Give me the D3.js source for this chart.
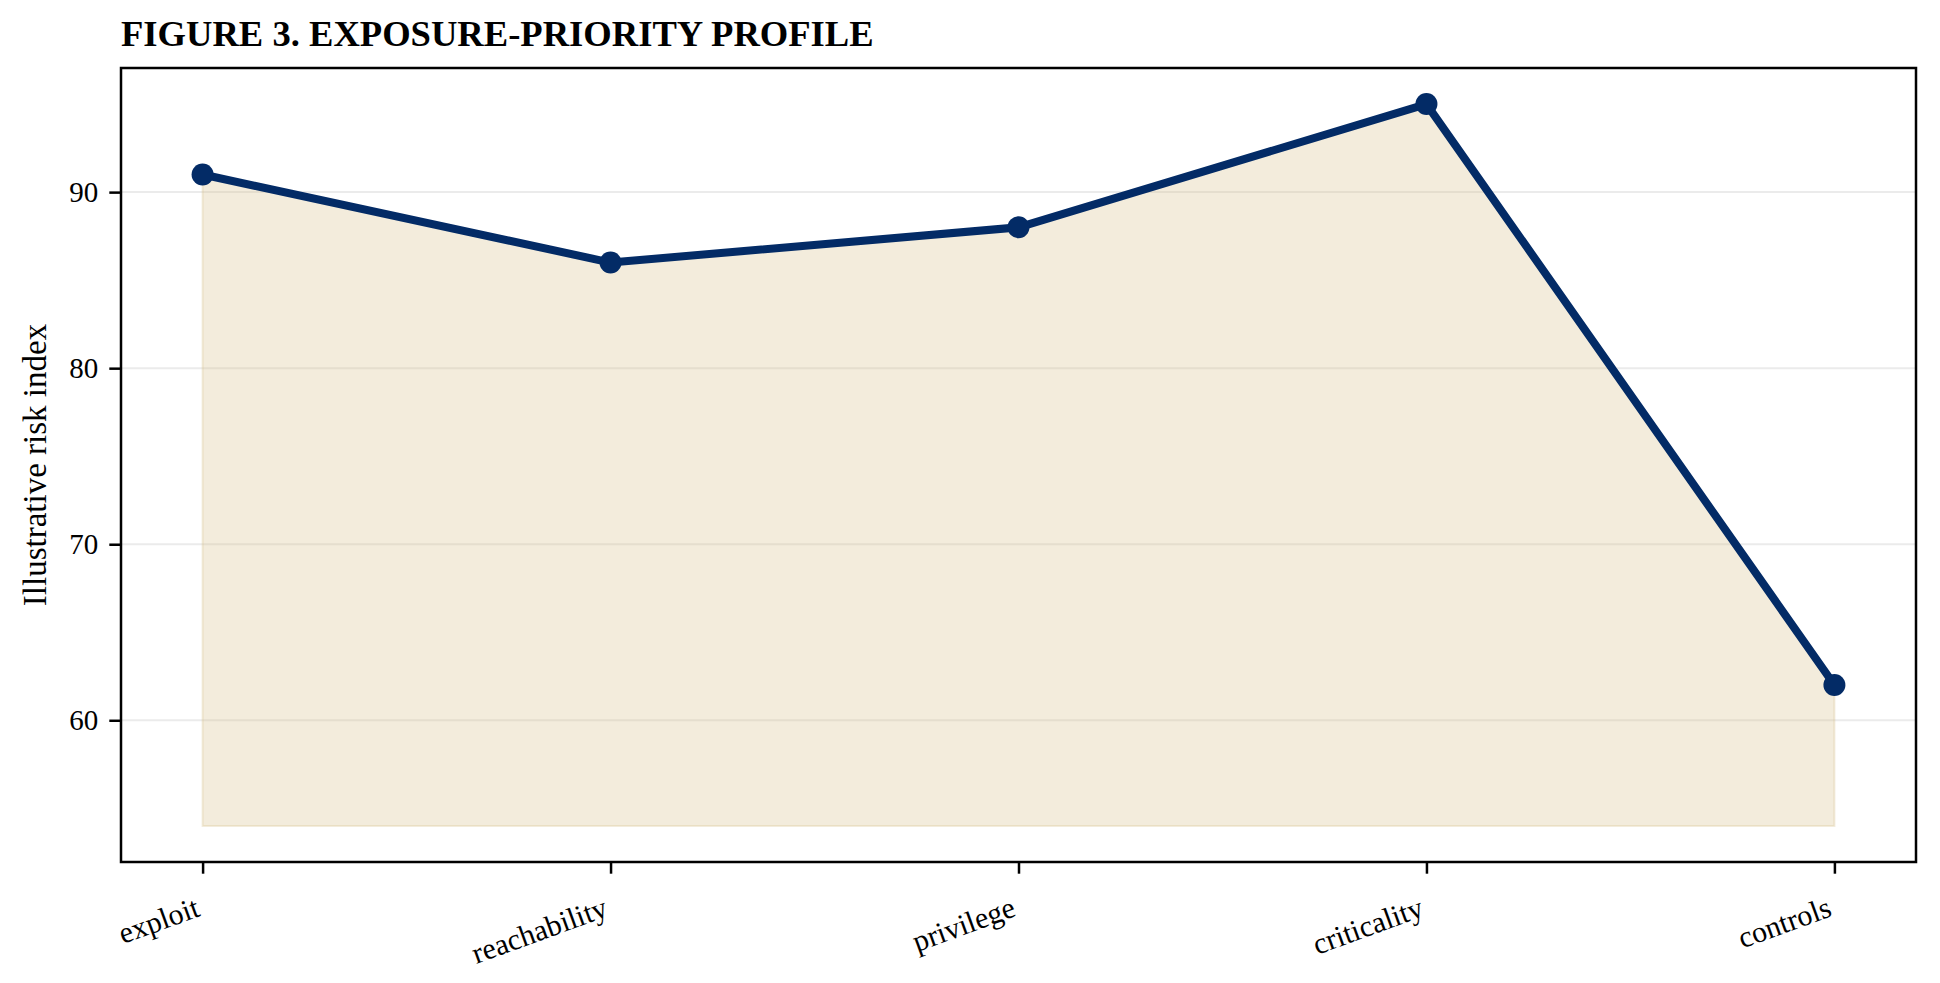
<!DOCTYPE html>
<html>
<head>
<meta charset="utf-8">
<script src="https://cdn.jsdelivr.net/npm/d3@7"></script>
<style>
  body { margin: 0; background: #fff; }
  svg { display: block; font-family: "Liberation Serif", "Times New Roman", serif; }
</style>
</head>
<body>
<svg id="chart"></svg>
<script>
// exposure-priority profile, values
var categories = ["exploit", "reachability", "privilege", "criticality", "controls"];
var riskValues = [91, 86, 88, 95, 62];
var yTicks = [60, 70, 80, 90];
var fillBase = 54;

var W = 1940, H = 983;
var margin = {top: 68, right: 24, bottom: 121, left: 121},
    width = W - margin.left - margin.right,
    height = H - margin.top - margin.bottom;

var svg = d3.select("#chart")
    .attr("width", W)
    .attr("height", H);

var g = svg.append("g")
    .attr("transform", "translate(" + margin.left + "," + margin.top + ")");

var x = d3.scaleLinear()
    .domain([-0.2, categories.length - 1 + 0.2])
    .range([0, width]);

var y = d3.scaleLinear()
    .domain([51.95, 97.05])
    .range([height, 0]);

// grid
g.selectAll(".grid")
    .data(yTicks)
    .enter()
    .append("line")
    .attr("class", "grid")
    .attr("x1", 0)
    .attr("x2", width)
    .attr("y1", function(d){ return y(d); })
    .attr("y2", function(d){ return y(d); })
    .style("stroke", "#ebebeb")
    .style("stroke-width", 2);

// shaded area under the profile
var area = d3.area()
    .x(function(d, i){ return x(i); })
    .y0(y(fillBase))
    .y1(function(d){ return y(d); });

g.append("path")
    .datum(riskValues)
    .attr("d", area)
    .style("fill", "#d8c08a")
    .style("fill-opacity", 0.3)
    .style("stroke", "#d8c08a")
    .style("stroke-opacity", 0.3)
    .style("stroke-width", 2);

var line = d3.line()
    .x(function(d, i){ return x(i); })
    .y(function(d){ return y(d); });

g.append("path")
    .datum(riskValues)
    .attr("d", line)
    .style("fill", "none")
    .style("stroke", "#032b66")
    .style("stroke-width", 8)
    .style("stroke-linejoin", "round");

g.selectAll(".dot")
    .data(riskValues)
    .enter()
    .append("circle")
    .attr("class", "dot")
    .attr("cx", function(d, i){ return x(i); })
    .attr("cy", function(d){ return y(d); })
    .attr("r", 11)
    .style("fill", "#032b66");

// axes
var yAxis = d3.axisLeft(y)
    .tickValues(yTicks)
    .tickSize(11.7)
    .tickPadding(11)
    .tickFormat(d3.format("d"));

var yG = g.append("g")
    .attr("class", "y axis")
    .call(yAxis);
yG.select(".domain").remove();
yG.selectAll("line").style("stroke", "#000").style("stroke-width", 2.5);
yG.selectAll("text")
    .style("font-size", "29px")
    .style("font-family", "Liberation Serif")
    .style("fill", "#000");

var xAxis = d3.axisBottom(x)
    .tickValues(d3.range(categories.length))
    .tickSize(11.7)
    .tickFormat(function(i){ return categories[i]; });

var xG = g.append("g")
    .attr("class", "x axis")
    .attr("transform", "translate(0," + height + ")")
    .call(xAxis);
xG.select(".domain").remove();
xG.selectAll("line").style("stroke", "#000").style("stroke-width", 2.5);
xG.selectAll("text")
    .style("font-size", "30px")
    .style("font-family", "Liberation Serif")
    .style("fill", "#000")
    .style("text-anchor", "end")
    .attr("x", -10)
    .attr("y", 29)
    .attr("dy", "0.75em")
    .attr("transform", "rotate(-20, 0, 29)");

// frame
g.append("rect")
    .attr("width", width)
    .attr("height", height)
    .style("fill", "none")
    .style("stroke", "#000")
    .style("stroke-width", 2.5);

svg.append("text")
    .attr("transform", "translate(46," + (margin.top + height / 2) + ") rotate(-90)")
    .style("text-anchor", "middle")
    .style("font-size", "33px")
    .text("Illustrative risk index");

svg.append("text")
    .attr("x", margin.left)
    .attr("y", 46)
    .style("font-size", "36.6px")
    .style("font-weight", "bold")
    .text("FIGURE 3. EXPOSURE-PRIORITY PROFILE");
</script>
</body>
</html>
